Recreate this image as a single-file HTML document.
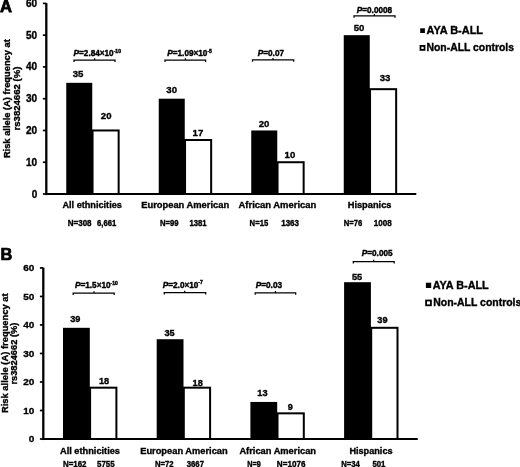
<!DOCTYPE html>
<html><head><meta charset="utf-8"><style>
html,body{margin:0;padding:0;background:#fff;}
svg{display:block;will-change:transform;}
</style></head><body>
<svg width="520" height="467" viewBox="0 0 520 467">
<rect width="520" height="467" fill="#fff"/>
<g font-family="Liberation Sans, sans-serif" font-weight="bold" fill="#000" stroke="#000" stroke-width="0.35">
<line x1="46.3" y1="3.10" x2="46.3" y2="195.10" stroke="#000" stroke-width="2.3"/>
<line x1="45.15" y1="194.0" x2="416.3" y2="194.0" stroke="#000" stroke-width="2.2"/>
<line x1="42.9" y1="194.00" x2="46.3" y2="194.00" stroke="#000" stroke-width="1.7"/>
<text x="37.2" y="197.50" font-size="10" text-anchor="end" >0</text>
<line x1="42.9" y1="162.23" x2="46.3" y2="162.23" stroke="#000" stroke-width="1.7"/>
<text x="37.2" y="165.73" font-size="10" text-anchor="end" >10</text>
<line x1="42.9" y1="130.47" x2="46.3" y2="130.47" stroke="#000" stroke-width="1.7"/>
<text x="37.2" y="133.97" font-size="10" text-anchor="end" >20</text>
<line x1="42.9" y1="98.70" x2="46.3" y2="98.70" stroke="#000" stroke-width="1.7"/>
<text x="37.2" y="102.20" font-size="10" text-anchor="end" >30</text>
<line x1="42.9" y1="66.93" x2="46.3" y2="66.93" stroke="#000" stroke-width="1.7"/>
<text x="37.2" y="70.43" font-size="10" text-anchor="end" >40</text>
<line x1="42.9" y1="35.17" x2="46.3" y2="35.17" stroke="#000" stroke-width="1.7"/>
<text x="37.2" y="38.67" font-size="10" text-anchor="end" >50</text>
<line x1="42.9" y1="3.40" x2="46.3" y2="3.40" stroke="#000" stroke-width="1.7"/>
<text x="37.2" y="6.90" font-size="10" text-anchor="end" >60</text>
<rect x="66.25" y="82.82" width="26.0" height="111.18" fill="#000" stroke="none"/>
<rect x="92.55" y="130.47" width="26.10" height="63.53" fill="#fff" stroke="#000" stroke-width="2.0"/>
<rect x="158.75" y="98.70" width="26.0" height="95.30" fill="#000" stroke="none"/>
<rect x="185.05" y="140.00" width="26.10" height="54.00" fill="#fff" stroke="#000" stroke-width="2.0"/>
<rect x="251.25" y="130.47" width="26.0" height="63.53" fill="#000" stroke="none"/>
<rect x="277.55" y="162.23" width="26.10" height="31.77" fill="#fff" stroke="#000" stroke-width="2.0"/>
<rect x="343.75" y="35.17" width="26.0" height="158.83" fill="#000" stroke="none"/>
<rect x="370.05" y="89.17" width="26.10" height="104.83" fill="#fff" stroke="#000" stroke-width="2.0"/>
<text x="78.1" y="77.25" font-size="9.6" text-anchor="middle" >35</text>
<text x="106.2" y="119.2" font-size="9.6" text-anchor="middle" >20</text>
<text x="171.7" y="93.3" font-size="9.6" text-anchor="middle" >30</text>
<text x="197.9" y="135.6" font-size="9.6" text-anchor="middle" >17</text>
<text x="264" y="126.5" font-size="9.6" text-anchor="middle" >20</text>
<text x="289.9" y="158.1" font-size="9.6" text-anchor="middle" >10</text>
<text x="359.05" y="30.6" font-size="9.6" text-anchor="middle" >50</text>
<text x="385" y="80.9" font-size="9.6" text-anchor="middle" >33</text>
<line x1="43.3" y1="267.64" x2="43.3" y2="440.05" stroke="#000" stroke-width="2.3"/>
<line x1="42.15" y1="439.0" x2="417.8" y2="439.0" stroke="#000" stroke-width="2.1"/>
<line x1="39.9" y1="439.00" x2="43.3" y2="439.00" stroke="#000" stroke-width="1.7"/>
<text x="34.4" y="442.10" font-size="10" text-anchor="end" transform="matrix(1,0,0,0.86,0,61.894)" >0</text>
<line x1="39.9" y1="410.49" x2="43.3" y2="410.49" stroke="#000" stroke-width="1.7"/>
<text x="34.4" y="413.59" font-size="10" text-anchor="end" transform="matrix(1,0,0,0.86,0,57.903)" >10</text>
<line x1="39.9" y1="381.98" x2="43.3" y2="381.98" stroke="#000" stroke-width="1.7"/>
<text x="34.4" y="385.08" font-size="10" text-anchor="end" transform="matrix(1,0,0,0.86,0,53.911)" >20</text>
<line x1="39.9" y1="353.47" x2="43.3" y2="353.47" stroke="#000" stroke-width="1.7"/>
<text x="34.4" y="356.57" font-size="10" text-anchor="end" transform="matrix(1,0,0,0.86,0,49.920)" >30</text>
<line x1="39.9" y1="324.96" x2="43.3" y2="324.96" stroke="#000" stroke-width="1.7"/>
<text x="34.4" y="328.06" font-size="10" text-anchor="end" transform="matrix(1,0,0,0.86,0,45.928)" >40</text>
<line x1="39.9" y1="296.45" x2="43.3" y2="296.45" stroke="#000" stroke-width="1.7"/>
<text x="34.4" y="299.55" font-size="10" text-anchor="end" transform="matrix(1,0,0,0.86,0,41.937)" >50</text>
<line x1="39.9" y1="267.94" x2="43.3" y2="267.94" stroke="#000" stroke-width="1.7"/>
<text x="34.4" y="271.04" font-size="10" text-anchor="end" transform="matrix(1,0,0,0.86,0,37.946)" >60</text>
<rect x="63.0" y="327.81" width="26.8" height="111.19" fill="#000" stroke="none"/>
<rect x="90.10" y="387.68" width="26.30" height="51.32" fill="#fff" stroke="#000" stroke-width="2.0"/>
<rect x="156.7" y="339.22" width="26.8" height="99.78" fill="#000" stroke="none"/>
<rect x="183.80" y="387.68" width="26.30" height="51.32" fill="#fff" stroke="#000" stroke-width="2.0"/>
<rect x="250.4" y="401.94" width="26.8" height="37.06" fill="#000" stroke="none"/>
<rect x="277.50" y="413.34" width="26.30" height="25.66" fill="#fff" stroke="#000" stroke-width="2.0"/>
<rect x="344.1" y="282.19" width="26.8" height="156.81" fill="#000" stroke="none"/>
<rect x="371.20" y="327.81" width="26.30" height="111.19" fill="#fff" stroke="#000" stroke-width="2.0"/>
<text x="75.35" y="321.8" font-size="9.2" text-anchor="middle" >39</text>
<text x="104.1" y="383.75" font-size="9.2" text-anchor="middle" >18</text>
<text x="169.6" y="336" font-size="9.2" text-anchor="middle" >35</text>
<text x="197.7" y="385.7" font-size="9.2" text-anchor="middle" >18</text>
<text x="262.4" y="396.3" font-size="9.2" text-anchor="middle" >13</text>
<text x="290.4" y="409.8" font-size="9.2" text-anchor="middle" >9</text>
<text x="357.1" y="279.8" font-size="9.2" text-anchor="middle" >55</text>
<text x="382.4" y="322.75" font-size="9.2" text-anchor="middle" >39</text>
<text x="0.0" y="12.2" font-size="17.4" text-anchor="start" textLength="12.0" lengthAdjust="spacingAndGlyphs" stroke-width="0.8">A</text>
<text x="0.6" y="259.6" font-size="16.4" text-anchor="start" stroke-width="0.7">B</text>
<text transform="translate(9.9,158.1) rotate(-90)" x="0" y="0" font-size="9.3" textLength="118.9" lengthAdjust="spacingAndGlyphs">Risk allele (A) frequency at</text>
<text transform="translate(20.3,130.5) rotate(-90)" x="0" y="0" font-size="9.3" textLength="63.9" lengthAdjust="spacingAndGlyphs">rs3824662 (%)</text>
<text transform="translate(7.8,413.0) rotate(-90)" x="0" y="0" font-size="9.3" textLength="119.6" lengthAdjust="spacingAndGlyphs">Risk allele (A) frequency at</text>
<text transform="translate(17.0,384.6) rotate(-90)" x="0" y="0" font-size="9.3" textLength="62.0" lengthAdjust="spacingAndGlyphs">rs3824662 (%)</text>
<text x="62.4" y="208.3" font-size="9.4" text-anchor="start" textLength="59.5" lengthAdjust="spacingAndGlyphs" >All ethnicities</text>
<text x="141.2" y="208.3" font-size="9.4" text-anchor="start" textLength="88" lengthAdjust="spacingAndGlyphs" >European American</text>
<text x="238.5" y="208.3" font-size="9.4" text-anchor="start" textLength="77.8" lengthAdjust="spacingAndGlyphs" >African American</text>
<text x="347.7" y="208.3" font-size="9.4" text-anchor="start" textLength="43.8" lengthAdjust="spacingAndGlyphs" >Hispanics</text>
<text x="60" y="453.6" font-size="9.4" text-anchor="start" textLength="60" lengthAdjust="spacingAndGlyphs" >All ethnicities</text>
<text x="140.2" y="453.6" font-size="9.4" text-anchor="start" textLength="87.5" lengthAdjust="spacingAndGlyphs" >European American</text>
<text x="239.4" y="453.6" font-size="9.4" text-anchor="start" textLength="76.6" lengthAdjust="spacingAndGlyphs" >African American</text>
<text x="349.4" y="453.6" font-size="9.4" text-anchor="start" textLength="43.2" lengthAdjust="spacingAndGlyphs" >Hispanics</text>
<text x="67.75" y="225.8" font-size="8.3" text-anchor="start" textLength="23.8" lengthAdjust="spacingAndGlyphs" >N=308</text>
<text x="97.0" y="225.8" font-size="8.3" text-anchor="start" textLength="19.3" lengthAdjust="spacingAndGlyphs" >6,661</text>
<text x="160" y="225.8" font-size="8.3" text-anchor="start" textLength="18.6" lengthAdjust="spacingAndGlyphs" >N=99</text>
<text x="189.4" y="225.8" font-size="8.3" text-anchor="start" textLength="17.1" lengthAdjust="spacingAndGlyphs" >1381</text>
<text x="249.6" y="225.8" font-size="8.3" text-anchor="start" textLength="18.6" lengthAdjust="spacingAndGlyphs" >N=15</text>
<text x="281.2" y="225.8" font-size="8.3" text-anchor="start" textLength="17.8" lengthAdjust="spacingAndGlyphs" >1363</text>
<text x="343.8" y="225.8" font-size="8.3" text-anchor="start" textLength="18.6" lengthAdjust="spacingAndGlyphs" >N=76</text>
<text x="373.8" y="225.8" font-size="8.3" text-anchor="start" textLength="18" lengthAdjust="spacingAndGlyphs" >1008</text>
<text x="63" y="467.0" font-size="8.3" text-anchor="start" textLength="23.5" lengthAdjust="spacingAndGlyphs" >N=162</text>
<text x="97" y="467.0" font-size="8.3" text-anchor="start" textLength="17.6" lengthAdjust="spacingAndGlyphs" >5755</text>
<text x="155" y="467.0" font-size="8.3" text-anchor="start" textLength="18.6" lengthAdjust="spacingAndGlyphs" >N=72</text>
<text x="186.7" y="467.0" font-size="8.3" text-anchor="start" textLength="17.3" lengthAdjust="spacingAndGlyphs" >3667</text>
<text x="247.2" y="467.0" font-size="8.3" text-anchor="start" textLength="13.5" lengthAdjust="spacingAndGlyphs" >N=9</text>
<text x="276.8" y="467.0" font-size="8.3" text-anchor="start" textLength="28.6" lengthAdjust="spacingAndGlyphs" >N=1076</text>
<text x="341.2" y="467.0" font-size="8.3" text-anchor="start" textLength="18.6" lengthAdjust="spacingAndGlyphs" >N=34</text>
<text x="372.4" y="467.0" font-size="8.3" text-anchor="start" textLength="13" lengthAdjust="spacingAndGlyphs" >501</text>
<path d="M74 62 L74 60 L115 60 L115 62 M94.6 60 L94.6 58.2" fill="none" stroke="#000" stroke-width="1.25"/>
<text x="73.6" y="55.9" font-size="8.2" stroke-width="0.4"><tspan font-style="italic">P</tspan>=2.84×10<tspan font-size="5.08" dy="-3.3">-10</tspan></text>
<path d="M165 62 L165 60 L205.6 60 L205.6 62 M185.4 60 L185.4 58.2" fill="none" stroke="#000" stroke-width="1.25"/>
<text x="167.3" y="55.9" font-size="8.2" stroke-width="0.4"><tspan font-style="italic">P</tspan>=1.09×10<tspan font-size="5.08" dy="-3.3">-5</tspan></text>
<path d="M252.5 61.8 L252.5 59.8 L293.7 59.8 L293.7 61.8 M273 59.8 L273 58.0" fill="none" stroke="#000" stroke-width="1.25"/>
<text x="257.8" y="56" font-size="8.2" stroke-width="0.4"><tspan font-style="italic">P</tspan>=0.07</text>
<path d="M354 17.8 L354 15.8 L395 15.8 L395 17.8 M374.4 15.8 L374.4 14.0" fill="none" stroke="#000" stroke-width="1.25"/>
<text x="356.8" y="13.1" font-size="8.2" stroke-width="0.4"><tspan font-style="italic">P</tspan>=0.0008</text>
<path d="M73.2 295.1 L73.2 293.1 L114.2 293.1 L114.2 295.1 M94 293.1 L94 291.3" fill="none" stroke="#000" stroke-width="1.25"/>
<text x="75" y="287.8" font-size="8.2" stroke-width="0.4"><tspan font-style="italic">P</tspan>=1.5×10<tspan font-size="5.08" dy="-3.3">-10</tspan></text>
<path d="M164.2 294.6 L164.2 292.6 L205.7 292.6 L205.7 294.6 M184.7 292.6 L184.7 290.8" fill="none" stroke="#000" stroke-width="1.25"/>
<text x="162.8" y="287.7" font-size="8.2" stroke-width="0.4"><tspan font-style="italic">P</tspan>=2.0×10<tspan font-size="5.08" dy="-3.3">-7</tspan></text>
<path d="M255.2 294.8 L255.2 292.8 L295.7 292.8 L295.7 294.8 M275.5 292.8 L275.5 291.0" fill="none" stroke="#000" stroke-width="1.25"/>
<text x="255.8" y="287.7" font-size="8.2" stroke-width="0.4"><tspan font-style="italic">P</tspan>=0.03</text>
<path d="M353.3 263.5 L353.3 261.5 L394.2 261.5 L394.2 263.5 M373.7 261.5 L373.7 259.7" fill="none" stroke="#000" stroke-width="1.25"/>
<text x="361.8" y="255.8" font-size="8.2" stroke-width="0.4"><tspan font-style="italic">P</tspan>=0.005</text>
<rect x="420.2" y="28.3" width="4.7" height="4.7" fill="#000" stroke="none"/>
<text x="426.5" y="33.8" font-size="10.2" text-anchor="start" textLength="56.5" lengthAdjust="spacingAndGlyphs" >AYA B-ALL</text>
<rect x="420.5" y="45.9" width="4.0" height="4.0" fill="#fff" stroke="#000" stroke-width="1.8"/>
<text x="426.5" y="50.8" font-size="10.2" text-anchor="start" textLength="87.5" lengthAdjust="spacingAndGlyphs" >Non-ALL controls</text>
<rect x="425.9" y="282.7" width="5.3" height="5.3" fill="#000" stroke="none"/>
<text x="432.8" y="288.6" font-size="10.2" text-anchor="start" textLength="55.9" lengthAdjust="spacingAndGlyphs" >AYA B-ALL</text>
<rect x="426.09999999999997" y="300.5" width="4.8" height="4.8" fill="#fff" stroke="#000" stroke-width="1.8"/>
<text x="433.3" y="306.4" font-size="10.2" text-anchor="start" textLength="88" lengthAdjust="spacingAndGlyphs" >Non-ALL controls</text>
</g>
</svg>
</body></html>
